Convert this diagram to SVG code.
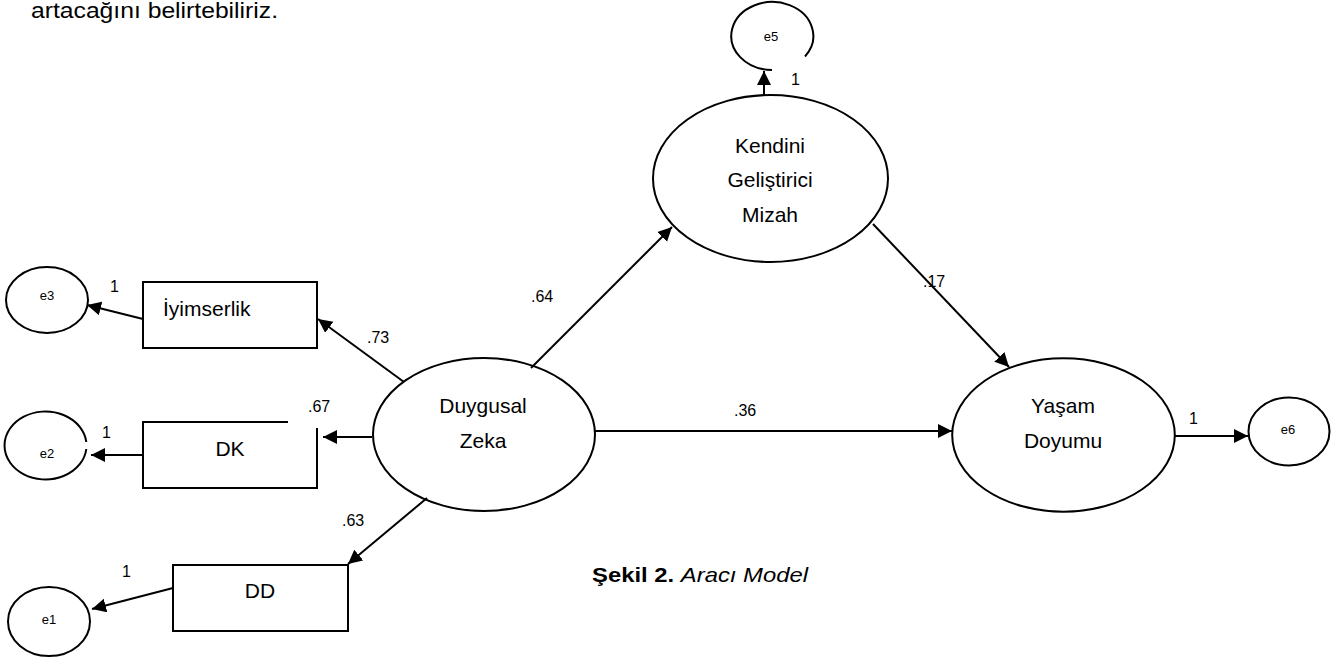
<svg xmlns="http://www.w3.org/2000/svg" width="1338" height="657" viewBox="0 0 1338 657">
<style>
text{font-family:"Liberation Sans",Arial,sans-serif;fill:#000}
.shape{fill:none;stroke:#000;stroke-width:2}
.lbl{font-size:21px;text-anchor:middle}
.num{font-size:16px}
.err{font-size:13px;text-anchor:middle}
.conn{stroke:#000;stroke-width:2;fill:none;marker-end:url(#ah)}
</style>
<defs>
<marker id="ah" markerUnits="userSpaceOnUse" markerWidth="15" markerHeight="15" refX="14" refY="7" orient="auto">
<path d="M0,0 L14,7 L0,14 z" fill="#000"/>
</marker>
</defs>
<rect width="1338" height="657" fill="#fff"/>
<text x="31" y="18" font-size="22" textLength="247" lengthAdjust="spacingAndGlyphs">artacağını belirtebiliriz.</text>

<g id="connectors">
<line class="conn" x1="764" y1="95" x2="764" y2="71"/>
<line class="conn" x1="531" y1="368" x2="672" y2="227"/>
<line class="conn" x1="873" y1="224" x2="1009" y2="367"/>
<line class="conn" x1="595" y1="431" x2="952" y2="431"/>
<line class="conn" x1="1175" y1="436" x2="1248" y2="436"/>
<line class="conn" x1="404" y1="382" x2="318" y2="319"/>
<line class="conn" x1="372" y1="437" x2="323" y2="437"/>
<line class="conn" x1="427" y1="498" x2="348" y2="564"/>
<line class="conn" x1="143" y1="319" x2="87" y2="305"/>
<line class="conn" x1="143" y1="455" x2="91" y2="455"/>
<line class="conn" x1="173" y1="588" x2="92" y2="609"/>
</g>

<g id="e5">
<path class="shape" d="M772,70 A41,34 0 1 1 805,56.5"/>
<text class="err" x="771" y="41">e5</text>
<text class="num" x="791" y="85">1</text>
</g>

<g id="kendini">
<ellipse class="shape" cx="770.5" cy="178.5" rx="117.5" ry="83.5"/>
<text class="lbl" x="770" y="153">Kendini</text>
<text class="lbl" x="770" y="187">Geliştirici</text>
<text class="lbl" x="770" y="222">Mizah</text>
</g>

<g id="duygusal">
<ellipse class="shape" cx="484" cy="434.5" rx="111" ry="76.5"/>
<text class="lbl" x="483" y="413">Duygusal</text>
<text class="lbl" x="483" y="448">Zeka</text>
</g>

<g id="yasam">
<ellipse class="shape" cx="1063.5" cy="435" rx="111.3" ry="76.7"/>
<text class="lbl" x="1063" y="413">Yaşam</text>
<text class="lbl" x="1063" y="448">Doyumu</text>
</g>

<g id="e6">
<ellipse class="shape" cx="1289" cy="431.5" rx="40.5" ry="34"/>
<text class="err" x="1288" y="434">e6</text>
<text class="num" x="1189" y="424">1</text>
</g>

<g id="iyimserlik">
<rect class="shape" x="143" y="282" width="174" height="66"/>
<text x="163" y="316" font-size="21">İyimserlik</text>
</g>

<g id="dk">
<path class="shape" d="M288,422 H143 V488 H317 V428"/>
<text class="lbl" x="230" y="456">DK</text>
</g>

<g id="dd">
<rect class="shape" x="173" y="565" width="175" height="66"/>
<text class="lbl" x="260" y="598">DD</text>
</g>

<g id="e3">
<ellipse class="shape" cx="47" cy="300" rx="41" ry="33"/>
<text class="err" x="47" y="300">e3</text>
<text class="num" x="110" y="292">1</text>
</g>

<g id="e2">
<path class="shape" d="M86.3,449 A41,34 0 1 1 86.3,442"/>
<text class="err" x="47" y="458">e2</text>
<text class="num" x="102" y="438">1</text>
</g>

<g id="e1">
<ellipse class="shape" cx="49" cy="621.5" rx="41" ry="34.5"/>
<text class="err" x="49" y="624">e1</text>
<text class="num" x="122" y="577">1</text>
</g>

<g id="labels">
<text class="num" x="367" y="343">.73</text>
<text class="num" x="308" y="412">.67</text>
<text class="num" x="342" y="526">.63</text>
<text class="num" x="531" y="302">.64</text>
<text class="num" x="923" y="287">.17</text>
<text class="num" x="734" y="416">.36</text>
</g>

<g id="caption">
<text x="592" y="582" font-size="21" textLength="216" lengthAdjust="spacingAndGlyphs"><tspan font-weight="bold">Şekil 2.</tspan> <tspan font-style="italic">Aracı Model</tspan></text>
</g>
</svg>
